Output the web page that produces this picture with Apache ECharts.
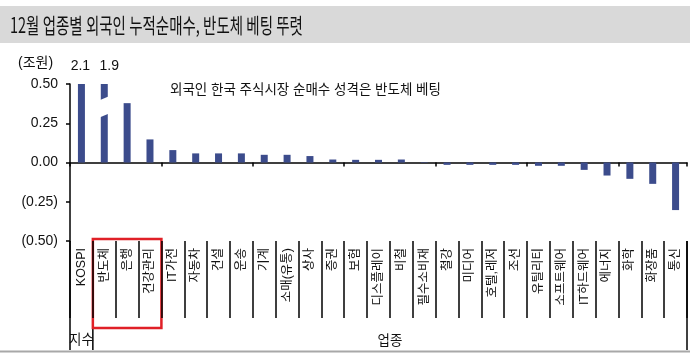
<!DOCTYPE html>
<html><head><meta charset="utf-8">
<script src="https://cdn.jsdelivr.net/npm/echarts@6/dist/echarts.min.js"></script>
<style>html,body{margin:0;padding:0;background:#fff}#c{width:699px;height:358px}</style>
</head><body><div id="c"></div>
<script>
const categories = ['KOSPI','반도체','은행','건강관리','IT가전','자동차','건설','운송','기계','소매(유통)','상사','증권','보험','디스플레이','비철','필수소비재','철강','미디어','호텔,레저','조선','유틸리티','소프트웨어','IT하드웨어','에너지','화학','화장품','통신'];
const values = [2.1, 1.9, 0.378, 0.147, 0.079, 0.058, 0.058, 0.058, 0.049, 0.049, 0.041, 0.019, 0.017, 0.017, 0.019, 0.003, -0.015, -0.015, -0.015, -0.015, -0.021, -0.021, -0.047, -0.083, -0.104, -0.136, -0.303];
const yTicks = [-0.5, -0.25, 0, 0.25, 0.5];
const breakGap = [[1, 0.30, 0.41]];
const highlighted = ['반도체','은행','건강관리'];
const groupLabels = ['지수','업종'];

const FONT = "'Liberation Sans','Noto Sans CJK KR',sans-serif";
const yMin = yTicks[0], yMax = yTicks[yTicks.length-1];
const barData = values.map((v, i) => ({
  value: Math.min(v, yMax),
  label: {offset: i === 1 ? [5, 0] : [-1, 0]}
}));

const chart = echarts.init(document.getElementById('c'), null, {renderer:'canvas'});
const option = {
  animation:false,
  backgroundColor:'#fff',
  grid:{left:70, right:12, top:84, bottom:117},
  xAxis:[{
    type:'category', data:categories, position:'bottom',
    axisLine:{onZero:true, lineStyle:{color:'#000', width:1.5}},
    axisTick:{show:true, length:4, lineStyle:{color:'#000', width:1.5}},
    axisLabel:{show:false}, splitLine:{show:false}
  },{
    type:'category', data:categories, position:'bottom',
    axisLine:{show:false, onZero:false},
    axisTick:{show:true, length:77, lineStyle:{color:'#000', width:1.5}},
    axisLabel:{show:true, rotate:90, margin:7, fontSize:12.5, color:'#111', fontFamily:FONT},
    splitLine:{show:false}
  }],
  yAxis:{
    type:'value', min:yMin, max:yMax, interval:0.25,
    axisLine:{show:true, lineStyle:{color:'#000', width:1.5}},
    axisTick:{show:true, length:4, lineStyle:{color:'#000', width:1.5}},
    splitLine:{show:false},
    axisLabel:{margin:12, fontSize:14, color:'#111', fontFamily:FONT,
      formatter:v => v < 0 ? '(' + Math.abs(v).toFixed(2) + ')' : v.toFixed(2)}
  },
  series:[{
    type:'bar', data:barData, barWidth:7, xAxisIndex:0, yAxisIndex:0,
    itemStyle:{color:'#3c4c8c'},
    label:{show:true, position:'top', distance:11, fontSize:14, color:'#111', fontFamily:FONT,
      formatter:p => values[p.dataIndex] > yMax ? values[p.dataIndex].toFixed(1) : ''}
  },{
    type:'custom', xAxisIndex:0, yAxisIndex:0, data:breakGap, z:5, silent:true,
    renderItem:function(params, api){
      const x = api.value(0);
      const lo = api.coord([x, api.value(1)]);
      const hi = api.coord([x, api.value(2)]);
      const w = 12, s = 5;
      return {type:'polygon', shape:{points:[
        [lo[0]-w/2, lo[1]+s/2],[lo[0]+w/2, lo[1]-s/2],
        [hi[0]+w/2, hi[1]-s/2],[hi[0]-w/2, hi[1]+s/2]]},
        style:{fill:'#fff'}};
    }
  }]
};
chart.setOption(option);

const cx = i => chart.convertToPixel({xAxisIndex:0}, categories[i]);
const py = v => chart.convertToPixel({yAxisIndex:0}, v);
const band = cx(1) - cx(0);
const xLeft = cx(0) - band/2;
const xRight = cx(categories.length-1) + band/2;
const yBot = py(yMin);
const lineEnd = 350;
const h0 = categories.indexOf(highlighted[0]);
const h1 = categories.indexOf(highlighted[highlighted.length-1]);
const lineStyle = {stroke:'#000', lineWidth:1.5};

chart.setOption({graphic:[
  {type:'rect', shape:{x:0, y:6, width:690, height:37}, style:{fill:'#d9d9d9'}, z:-1},
  {type:'text', x:10, y:25, scaleX:0.69, style:{text:'12월 업종별 외국인 누적순매수, 반도체 베팅 뚜렷', font:"21px 'Noto Sans CJK KR'", fill:'#111', textVerticalAlign:'middle'}},
  {type:'text', x:18, y:63, style:{text:'(조원)', font:"14px "+FONT, fill:'#111', textVerticalAlign:'middle'}},
  {type:'text', x:170, y:90, style:{text:'외국인 한국 주식시장 순매수 성격은 반도체 베팅', font:"13.5px "+FONT, fill:'#111', textVerticalAlign:'middle'}},
  {type:'line', shape:{x1:xLeft, y1:yBot, x2:xLeft, y2:lineEnd}, style:lineStyle},
  {type:'line', shape:{x1:xLeft+band, y1:yBot, x2:xLeft+band, y2:lineEnd}, style:lineStyle},
  {type:'line', shape:{x1:xRight, y1:yBot, x2:xRight, y2:lineEnd}, style:lineStyle},
  {type:'rect', shape:{x:cx(h0)-band/2, y:yBot-2, width:(h1-h0+1)*band, height:89}, style:{fill:'none', stroke:'#e02027', lineWidth:2.5}},
  {type:'text', x:(xLeft+xLeft+band)/2, y:340, style:{text:groupLabels[0], font:"13.5px "+FONT, fill:'#111', textAlign:'center', textVerticalAlign:'middle'}},
  {type:'text', x:(xLeft+band+xRight)/2, y:341, style:{text:groupLabels[1], font:"13.5px "+FONT, fill:'#111', textAlign:'center', textVerticalAlign:'middle'}},
  {type:'line', shape:{x1:0, y1:351.5, x2:690, y2:351.5}, style:{stroke:'#a8a8a8', lineWidth:2}}
]});
</script></body></html>
